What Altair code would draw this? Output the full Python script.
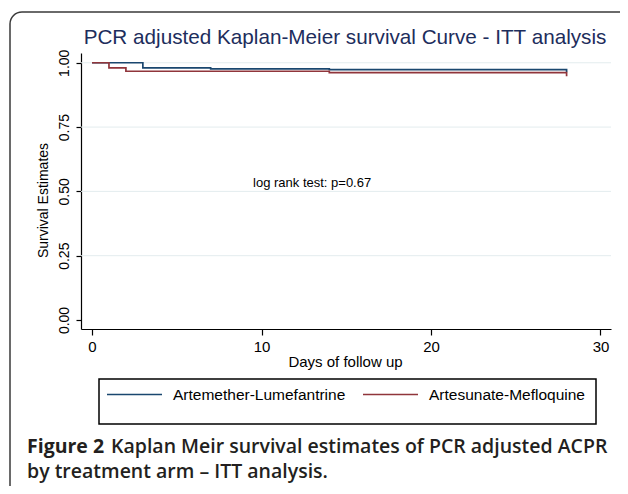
import altair as alt
import pandas as pd

# ---- data ----
arms = ["Artemether-Lumefantrine", "Artesunate-Mefloquine"]
arm_colors = ["#1a476f", "#90353b"]

days_al = [0, 3, 7, 14, 28]
surv_al = [1.0, 0.980, 0.976, 0.973, 0.963]

days_am = [0, 1, 2, 14, 28]
surv_am = [1.0, 0.980, 0.967, 0.962, 0.948]

x_ticks = [0, 10, 20, 30]
y_ticks = [0.0, 0.25, 0.5, 0.75, 1.0]
grid_vals = [0.25, 0.5, 0.75, 1.0]

annot_day = [9.5]
annot_surv = [0.532]
annot_text = ["log rank test: p=0.67"]

title_text = "PCR adjusted Kaplan-Meier survival Curve - ITT analysis"
caption_bold = "Figure 2"
caption_rest = "Kaplan Meir survival estimates of PCR adjusted ACPR"
caption_line2 = "by treatment arm \u2013 ITT analysis."

# ---- tables ----
km = pd.DataFrame({
    "day": days_al + days_am,
    "surv": surv_al + surv_am,
    "arm": [arms[0]] * len(days_al) + [arms[1]] * len(days_am),
})
grid_df = pd.DataFrame({"g": grid_vals})
ann_df = pd.DataFrame({"day": annot_day, "surv": annot_surv, "label": annot_text})
one = pd.DataFrame({"k": [0]})

W, H = 530, 276
FONT = "Liberation Sans"

xscale = alt.Scale(domain=[-0.65, 30.62], nice=False, zero=False)
yscale = alt.Scale(domain=[-0.035, 1.038], nice=False, zero=False)

xaxis = alt.Axis(values=x_ticks, format="d", title="Days of follow up",
                 grid=False, tickSize=6, labelPadding=4,
                 labelFontSize=15, titleFontSize=15,
                 titleX=264, titleY=32, titleBaseline="middle", titleAlign="center")
yaxis = alt.Axis(values=y_ticks, format=".2f", title="Survival Estimates",
                 grid=False, tickSize=5, labelAngle=270,
                 labelAlign="center", labelBaseline="alphabetic",
                 labelPadding=8, labelFontSize=14, titleFontSize=14,
                 titleAngle=270, titleX=-38, titleY=147,
                 titleAlign="center", titleBaseline="middle")

grid = alt.Chart(grid_df).mark_rule(color="#e3ecee", strokeWidth=1).encode(
    y=alt.Y("g:Q", scale=yscale, axis=yaxis)
)

lines = alt.Chart(km).mark_line(interpolate="step-after", strokeWidth=1.7).encode(
    x=alt.X("day:Q", scale=xscale, axis=xaxis),
    y=alt.Y("surv:Q", scale=yscale, axis=yaxis),
    color=alt.Color("arm:N", title=None,
                    scale=alt.Scale(domain=arms, range=arm_colors),
                    legend=alt.Legend(orient="none", legendX=25, legendY=313,
                                      direction="horizontal", symbolType="stroke",
                                      symbolSize=3025, symbolStrokeWidth=1.7,
                                      labelFont=FONT, labelFontSize=15.5,
                                      labelColor="black", labelOffset=10,
                                      columnPadding=13, padding=0, labelLimit=400)),
    order=alt.Order("day:Q"),
)

annot = alt.Chart(ann_df).mark_text(align="left", baseline="middle", font=FONT,
                                    fontSize=13, color="black").encode(
    x=alt.X("day:Q", scale=xscale, axis=xaxis),
    y=alt.Y("surv:Q", scale=yscale, axis=yaxis),
    text="label:N",
)

frame = alt.Chart(one).mark_rect(filled=False, stroke="#3a3a3a", strokeWidth=1.5,
                                 cornerRadius=12).encode(
    x=alt.value(-71), x2=alt.value(560), y=alt.value(-41), y2=alt.value(470)
)

legend_box = alt.Chart(one).mark_rect(filled=False, stroke="black",
                                      strokeWidth=1.5).encode(
    x=alt.value(18), x2=alt.value(515), y=alt.value(326), y2=alt.value(371)
)

title = alt.Chart(one).mark_text(align="center", baseline="alphabetic", font=FONT,
                                 fontSize=20.7, color="#1d2d5c",
                                 text=title_text).encode(
    x=alt.value(264), y=alt.value(-9)
)

cap_font = "Open Sans"
cap_size = 19.5
cap1a = alt.Chart(one).mark_text(align="left", baseline="middle", font=cap_font,
                                 fontSize=cap_size, fontWeight="bold", color="#231f20",
                                 text=caption_bold).encode(
    x=alt.value(-54), y=alt.value(394)
)
cap1b = alt.Chart(one).mark_text(align="left", baseline="middle", font=cap_font,
                                 fontSize=cap_size, fontWeight=600, color="#231f20",
                                 text=caption_rest).encode(
    x=alt.value(30), y=alt.value(394)
)
cap2 = alt.Chart(one).mark_text(align="left", baseline="middle", font=cap_font,
                                fontSize=cap_size, fontWeight=600, color="#231f20",
                                text=caption_line2).encode(
    x=alt.value(-54), y=alt.value(419)
)

chart = alt.layer(
    grid, lines, annot, frame, legend_box, title, cap1a, cap1b, cap2
).properties(
    width=W, height=H,
    autosize=alt.AutoSizeParams(type="none"),
    padding={"left": 73, "top": 45, "right": 9, "bottom": 157},
    background="white",
).configure_view(strokeWidth=0).configure_axis(
    domainColor="black", tickColor="black", labelColor="black", titleColor="black",
    labelFont=FONT, titleFont=FONT, titleFontWeight="normal", domainWidth=1.2,
    tickWidth=1.2,
)

chart.save("out.html", embed_options={"renderer": "svg", "actions": False})
